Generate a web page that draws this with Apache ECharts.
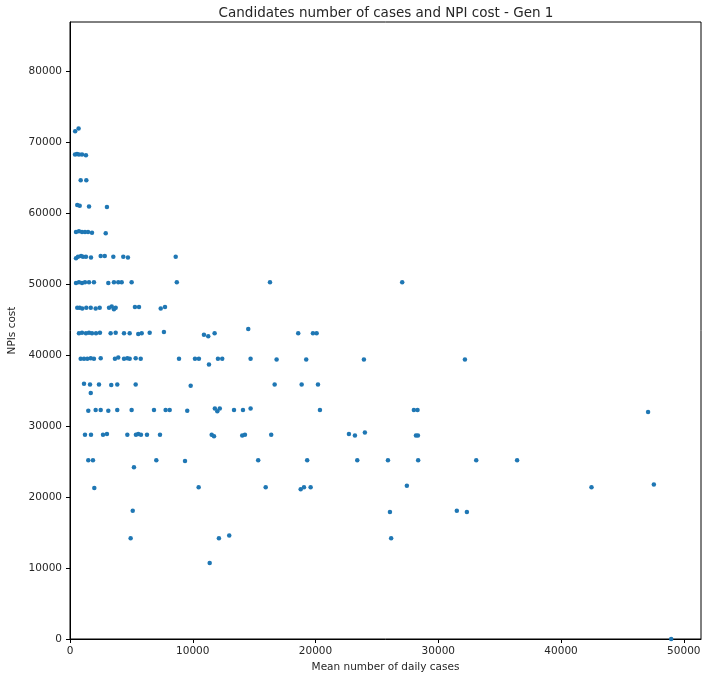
<!DOCTYPE html>
<html>
<head>
<meta charset="utf-8">
<script src="https://cdn.jsdelivr.net/npm/echarts@6/dist/echarts.min.js"></script>
<style>
  html, body { margin: 0; padding: 0; background: #fff; }
  #chart { width: 702px; height: 675px; }
</style>
</head>
<body>
<div id="chart"></div>
<script>
const titleText = 'Candidates number of cases and NPI cost - Gen 1';
const xName = 'Mean number of daily cases';
const yName = 'NPIs cost';

const xTicks = [0, 10000, 20000, 30000, 40000, 50000];
const yTicks = [0, 10000, 20000, 30000, 40000, 50000, 60000, 70000, 80000];

// [mean daily cases, NPI cost]
const pointsHigh = [
  [420, 71600], [700, 72000],
  [410, 68300], [570, 68400], [730, 68300], [980, 68300], [1300, 68200],
  [870, 64700], [1330, 64700],
  [590, 61200], [790, 61100], [1550, 61000], [3010, 60900],
  [490, 57400], [730, 57500], [980, 57400], [1220, 57400], [1470, 57400], [1790, 57300], [2910, 57200],
  [490, 53700], [650, 53900], [900, 54000], [1060, 53900], [1300, 53900], [1710, 53800],
  [2500, 54000], [2830, 54000], [3530, 53900], [4340, 53900], [4720, 53800], [8610, 53900],
  [490, 50200], [730, 50300], [980, 50200], [1220, 50300], [1550, 50300], [1950, 50300],
  [3120, 50200], [3580, 50300], [3930, 50300], [4210, 50300], [5020, 50300], [8700, 50300],
  [16290, 50300], [27060, 50300]
];

const pointsMid = [
  [590, 46700], [790, 46700], [1000, 46600], [1330, 46700], [1690, 46700], [2090, 46600], [2420, 46700],
  [3180, 46700], [3400, 46900], [3580, 46500], [3720, 46700], [5290, 46800], [5620, 46800],
  [7390, 46600], [7740, 46800],
  [730, 43100], [980, 43200], [1300, 43100], [1550, 43200], [1790, 43100], [2120, 43100], [2440, 43200],
  [3310, 43100], [3720, 43200], [4400, 43100], [4860, 43100], [5560, 43000], [5840, 43100],
  [6490, 43200], [7650, 43300], [10910, 42900], [11260, 42700], [11780, 43100], [14520, 43700],
  [18590, 43100], [19790, 43100], [20090, 43100],
  [870, 39500], [1140, 39500], [1410, 39500], [1690, 39600], [1950, 39500], [2500, 39600],
  [3660, 39500], [3930, 39700], [4400, 39500], [4670, 39600], [4860, 39500], [5350, 39600], [5760, 39500],
  [8880, 39500], [10180, 39500], [10500, 39500], [11320, 38700], [12050, 39500], [12400, 39500],
  [14710, 39500], [16830, 39400], [19240, 39400], [23940, 39400], [32170, 39400],
  [1140, 36000], [1630, 35900], [1690, 34700], [2360, 35900], [3360, 35800], [3850, 35900], [5350, 35900],
  [9830, 35700], [16670, 35900], [18870, 35900], [20200, 35900],
  [1490, 32200], [2090, 32300], [2500, 32300], [3120, 32200], [3850, 32300], [5020, 32300], [6840, 32300],
  [7790, 32300], [8120, 32300], [9550, 32200], [11800, 32500], [12000, 32100], [12200, 32500],
  [13360, 32300], [14090, 32300], [14710, 32500], [20360, 32300], [28010, 32300], [28310, 32300],
  [47090, 32000]
];

const pointsLow = [
  [1220, 28800], [1710, 28800], [2690, 28800], [3010, 28900], [4670, 28800], [5370, 28800], [5560, 28900],
  [5780, 28800], [6270, 28800], [7330, 28800], [11540, 28800], [11730, 28600], [14030, 28700],
  [14250, 28800], [16390, 28800], [22720, 28900], [23210, 28700], [24020, 29100], [28180, 28700], [28340, 28700],
  [1490, 25200], [1870, 25200], [5210, 24200], [7030, 25200], [9370, 25100], [15330, 25200], [19320, 25200],
  [23400, 25200], [25900, 25200], [28360, 25200], [33090, 25200], [36420, 25200],
  [1980, 21300], [10480, 21400], [15940, 21400], [18790, 21100], [19060, 21400], [19600, 21400],
  [27440, 21600], [42480, 21400], [47560, 21800],
  [5110, 18100], [26060, 17900], [31510, 18100], [32330, 17900],
  [4940, 14200], [12130, 14200], [12970, 14600], [26160, 14200],
  [11380, 10700],
  [48970, 0]
];

const chart = echarts.init(document.getElementById('chart'));

const fontFamily = '"DejaVu Sans", sans-serif';
const textColor = '#262626';

function axisBase(ticks, labelMargin) {
  return {
    type: 'value',
    splitLine: { show: false },
    axisLine: { show: true, onZero: false, lineStyle: { color: '#000', width: 1 } },
    axisTick: { show: true, length: 4, customValues: ticks, lineStyle: { color: '#000' } },
    axisLabel: {
      customValues: ticks,
      color: textColor,
      fontSize: 10.5,
      fontFamily,
      margin: labelMargin,
      formatter: (v) => String(v),
    },
  };
}

chart.setOption({
  animation: false,
  backgroundColor: '#fff',
  title: {
    text: titleText,
    left: 381,
    top: 1,
    textAlign: 'center',
    textStyle: { color: textColor, fontSize: 13.5, fontWeight: 'normal', fontFamily },
  },
  grid: {
    left: 70,
    top: 22,
    width: 631,
    height: 617,
    show: true,
    borderColor: '#000',
    borderWidth: 1,
    containLabel: false,
    outerBoundsMode: 'none',
  },
  xAxis: Object.assign(axisBase(xTicks, 7), {
    min: 0,
    max: 51400,
    name: xName,
    nameLocation: 'middle',
    nameGap: 21,
    nameTextStyle: { color: textColor, fontSize: 10.5, fontFamily },
  }),
  yAxis: Object.assign(axisBase(yTicks, 8), {
    min: 0,
    max: 87000,
    name: yName,
    nameLocation: 'middle',
    nameGap: 50,
    nameTextStyle: { color: textColor, fontSize: 10.5, fontFamily },
  }),
  series: [
    {
      type: 'scatter',
      symbol: 'circle',
      symbolSize: 4.5,
      itemStyle: { color: '#1f77b4', opacity: 1 },
      data: pointsHigh.concat(pointsMid, pointsLow),
    },
  ],
});
</script>
</body>
</html>
